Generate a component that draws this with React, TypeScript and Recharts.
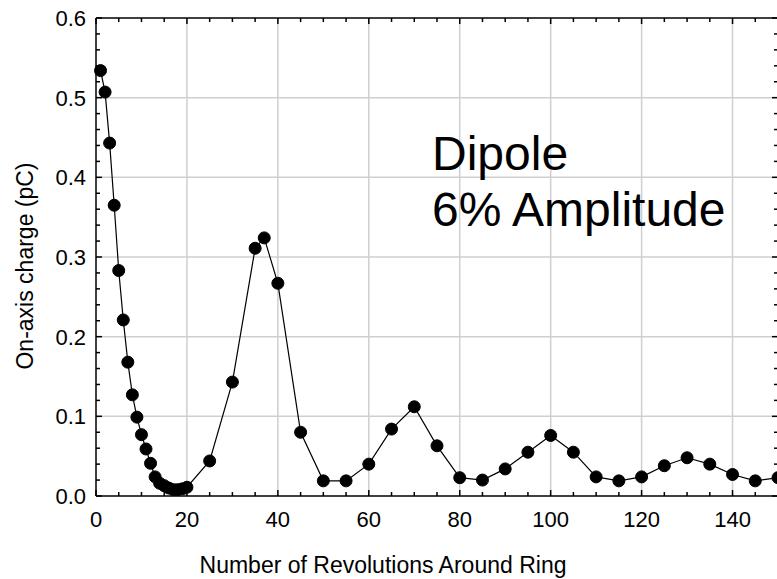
import React from 'react';
import {
  ComposedChart,
  Line,
  XAxis,
  YAxis,
  ReferenceLine,
} from 'recharts';

// revolutions around the ring
const revolutions = [
  1, 2, 3, 4, 5, 6, 7, 8, 9, 10, 11, 12, 13, 14, 15, 16, 17, 18, 19, 20,
  25, 30, 35, 37, 40, 45, 50, 55, 60, 65, 70, 75, 80, 85, 90, 95, 100,
  105, 110, 115, 120, 125, 130, 135, 140, 145, 150,
];

// on-axis charge (pC)
const charge = [
  0.534, 0.507, 0.443, 0.365, 0.283, 0.221, 0.168, 0.127, 0.099, 0.077,
  0.059, 0.041, 0.024, 0.016, 0.013, 0.010, 0.008, 0.008, 0.009, 0.011,
  0.044, 0.143, 0.311, 0.324, 0.267, 0.080, 0.019, 0.019, 0.040, 0.084,
  0.112, 0.063, 0.023, 0.020, 0.034, 0.055, 0.076, 0.055, 0.024, 0.019,
  0.024, 0.038, 0.048, 0.040, 0.027, 0.019, 0.023,
];

const xTicks = [
  0, 5, 10, 15, 20, 25, 30, 35, 40, 45, 50, 55, 60, 65, 70, 75, 80, 85,
  90, 95, 100, 105, 110, 115, 120, 125, 130, 135, 140, 145, 150,
];
const xGrid = [20, 40, 60, 80, 100, 120, 140];

const yTicks = [
  0, 0.02, 0.04, 0.06, 0.08, 0.1, 0.12, 0.14, 0.16, 0.18, 0.2, 0.22, 0.24,
  0.26, 0.28, 0.3, 0.32, 0.34, 0.36, 0.38, 0.4, 0.42, 0.44, 0.46, 0.48,
  0.5, 0.52, 0.54, 0.56, 0.58, 0.6,
];
const yGrid = [0.1, 0.2, 0.3, 0.4, 0.5];

const data = revolutions.map((r, i) => ({ rev: r, charge: charge[i] }));

const FONT = '"Liberation Sans", Arial, sans-serif';
const MAJOR = 6;
const MINOR = 4;

const isXMajor = (v: number) => v % 20 === 0;
const isYMajor = (v: number) => Math.abs(v * 10 - Math.round(v * 10)) < 1e-6;

const BottomTick = (props: any) => {
  const { x, y, payload } = props;
  const major = isXMajor(payload.value);
  return (
    <g>
      <line x1={x} y1={y} x2={x} y2={y - (major ? MAJOR : MINOR)} stroke="#000" strokeWidth={1.5} />
      {major && (
        <text x={x} y={y + 31} textAnchor="middle" fontSize={22} fontFamily={FONT} fill="#000">
          {payload.value}
        </text>
      )}
    </g>
  );
};

const TopTick = (props: any) => {
  const { x, y, payload } = props;
  const major = isXMajor(payload.value);
  return <line x1={x} y1={y} x2={x} y2={y + (major ? MAJOR : MINOR)} stroke="#000" strokeWidth={1.5} />;
};

const LeftTick = (props: any) => {
  const { x, y, payload } = props;
  const major = isYMajor(payload.value);
  return (
    <g>
      <line x1={x} y1={y} x2={x + (major ? MAJOR : MINOR)} y2={y} stroke="#000" strokeWidth={1.5} />
      {major && (
        <text x={x - 10} y={y + 8} textAnchor="end" fontSize={22} fontFamily={FONT} fill="#000">
          {payload.value.toFixed(1)}
        </text>
      )}
    </g>
  );
};

const RightTick = (props: any) => {
  const { x, y, payload } = props;
  const major = isYMajor(payload.value);
  return <line x1={x} y1={y} x2={x - (major ? MAJOR : MINOR)} y2={y} stroke="#000" strokeWidth={1.5} />;
};

const axisLine = { stroke: '#000', strokeWidth: 1.5 };

export default function App() {
  return (
    <div style={{ position: 'absolute', left: 0, top: 0, width: 777, height: 579, overflow: 'hidden', background: '#fff' }}>
      <ComposedChart width={780} height={579} data={data} margin={{ top: 0, right: 0, bottom: 0, left: 0 }}>
        <XAxis
          xAxisId="b"
          dataKey="rev"
          type="number"
          domain={[0, 150]}
          ticks={xTicks}
          interval={0}
          tickSize={0}
          tickMargin={0}
          tickLine={false}
          axisLine={axisLine}
          tick={<BottomTick />}
          height={83}
        />
        <XAxis
          xAxisId="t"
          orientation="top"
          dataKey="rev"
          type="number"
          domain={[0, 150]}
          ticks={xTicks}
          interval={0}
          tickSize={0}
          tickMargin={0}
          tickLine={false}
          axisLine={axisLine}
          tick={<TopTick />}
          height={18}
        />
        <YAxis
          yAxisId="l"
          type="number"
          domain={[0, 0.6]}
          ticks={yTicks}
          interval={0}
          tickSize={0}
          tickMargin={0}
          tickLine={false}
          axisLine={axisLine}
          tick={<LeftTick />}
          width={96}
        />
        <YAxis
          yAxisId="r"
          orientation="right"
          type="number"
          domain={[0, 0.6]}
          ticks={yTicks}
          interval={0}
          tickSize={0}
          tickMargin={0}
          tickLine={false}
          axisLine={axisLine}
          tick={<RightTick />}
          width={2}
        />
        {xGrid.map((v) => (
          <ReferenceLine key={'x' + v} xAxisId="b" yAxisId="l" x={v} stroke="#cfcfcf" strokeWidth={1.5} />
        ))}
        {yGrid.map((v) => (
          <ReferenceLine key={'y' + v} xAxisId="b" yAxisId="l" y={v} stroke="#cfcfcf" strokeWidth={1.5} />
        ))}
        <Line
          xAxisId="t"
          yAxisId="r"
          dataKey="charge"
          stroke="none"
          dot={false}
          activeDot={false}
          isAnimationActive={false}
        />
        <Line
          xAxisId="b"
          yAxisId="l"
          type="linear"
          dataKey="charge"
          stroke="#000"
          strokeWidth={1.2}
          dot={{ r: 6, fill: '#000', stroke: '#000', strokeWidth: 1 }}
          activeDot={false}
          isAnimationActive={false}
        />
      </ComposedChart>
      <div
        style={{
          position: 'absolute',
          left: 25,
          top: 266,
          transform: 'translate(-50%, -50%) rotate(-90deg)',
          whiteSpace: 'nowrap',
          fontFamily: FONT,
          fontSize: 23,
          color: '#000',
        }}
      >
        On-axis charge (pC)
      </div>
      <div
        style={{
          position: 'absolute',
          left: 383,
          top: 565,
          transform: 'translate(-50%, -50%)',
          whiteSpace: 'nowrap',
          fontFamily: FONT,
          fontSize: 23,
          color: '#000',
        }}
      >
        Number of Revolutions Around Ring
      </div>
      <div
        style={{
          position: 'absolute',
          left: 432,
          top: 126,
          fontFamily: FONT,
          fontSize: 48,
          lineHeight: '56px',
          color: '#000',
          whiteSpace: 'nowrap',
        }}
      >
        Dipole
        <br />
        6% Amplitude
      </div>
    </div>
  );
}
